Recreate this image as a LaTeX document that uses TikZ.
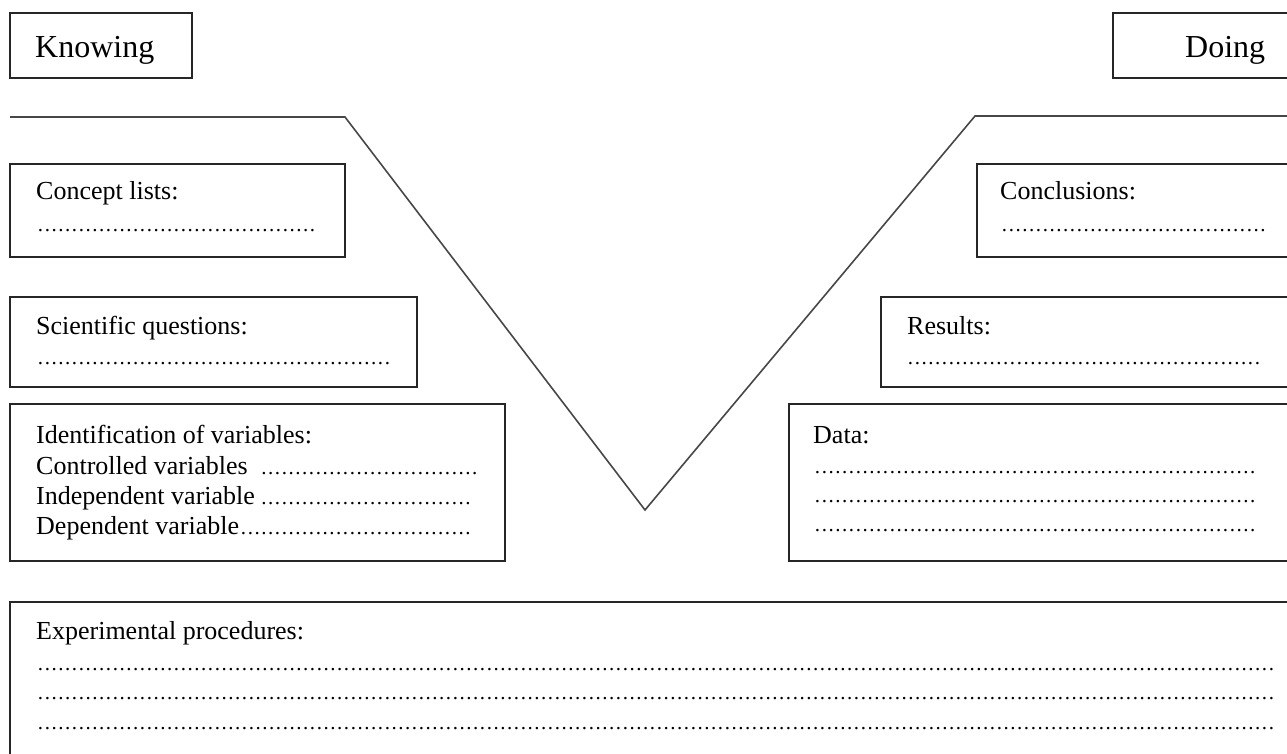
\documentclass[tikz,border=0pt]{standalone}
\usepackage{fontspec}
\setmainfont{Liberation Serif}
\newcommand\dotrow[2]{\hbox to #1pt{#2\leaders\hbox to 6.8pt{\hss\fontsize{21}{21}\selectfont.\hss}\hfill}}

\begin{document}
\begin{tikzpicture}[x=1pt,y=-1pt,
  box/.style={draw=black!85,line width=1.6pt},
  vline/.style={draw=black!72,line width=1.6pt},
  txt/.style={anchor=base west,inner sep=0pt,font=\fontsize{26}{30}\selectfont},
  big/.style={txt,font=\fontsize{32}{36}\selectfont}]

\useasboundingbox (0,0) rectangle (1287,753);
\clip (0,0) rectangle (1287,753);

% the V
\draw[vline] (10,117) -- (345,117) -- (645,510) -- (975,116) -- (1300,116);

% boxes, left side
\draw[box] (10,13) rectangle (192,78);
\draw[box] (10,164) rectangle (345,257);
\draw[box] (10,297) rectangle (417,387);
\draw[box] (10,404) rectangle (505,561);
% boxes, right side
\draw[box] (1113,13) rectangle (1300,78);
\draw[box] (977,164) rectangle (1300,257);
\draw[box] (881,297) rectangle (1300,387);
\draw[box] (789,404) rectangle (1300,561);
% bottom box
\draw[box] (10,602) rectangle (1300,770);

\node[big] (knowing) at (35,57) {Knowing};
\node[big] (doing) at (1185,57) {Doing};

\node[txt] (concept) at (36,199) {Concept lists:};
\node[txt] (conceptdots) at (37,231) {\dotrow{281}{}};
\node[txt] (sci) at (36,334) {Scientific questions:};
\node[txt] (scidots) at (37,364) {\dotrow{360}{}};
\node[txt] (ident) at (36,443) {Identification of variables:};
\node[txt] (contr) at (36,474) {\dotrow{446}{Controlled variables }};
\node[txt] (indep) at (36,504) {\dotrow{441}{Independent variable}};
\node[txt] (dep) at (36,534) {\dotrow{442}{Dependent variable}};

\node[txt] (concl) at (1000,199) {Conclusions:};
\node[txt] (concldots) at (1001,231) {\dotrow{268}{}};
\node[txt] (res) at (907,334) {Results:};
\node[txt] (resdots) at (907,364) {\dotrow{355}{}};
\node[txt] (data) at (813,443) {Data:};
\node[txt] (dataa) at (814,473) {\dotrow{448}{}};
\node[txt] (datab) at (814,502) {\dotrow{448}{}};
\node[txt] (datac) at (814,531) {\dotrow{448}{}};

\node[txt] (exper) at (36,639) {Experimental procedures:};
\node[txt] (expa) at (37,670) {\dotrow{1240}{}};
\node[txt] (expb) at (37,699) {\dotrow{1240}{}};
\node[txt] (expc) at (37,729) {\dotrow{1240}{}};

\end{tikzpicture}
\end{document}
